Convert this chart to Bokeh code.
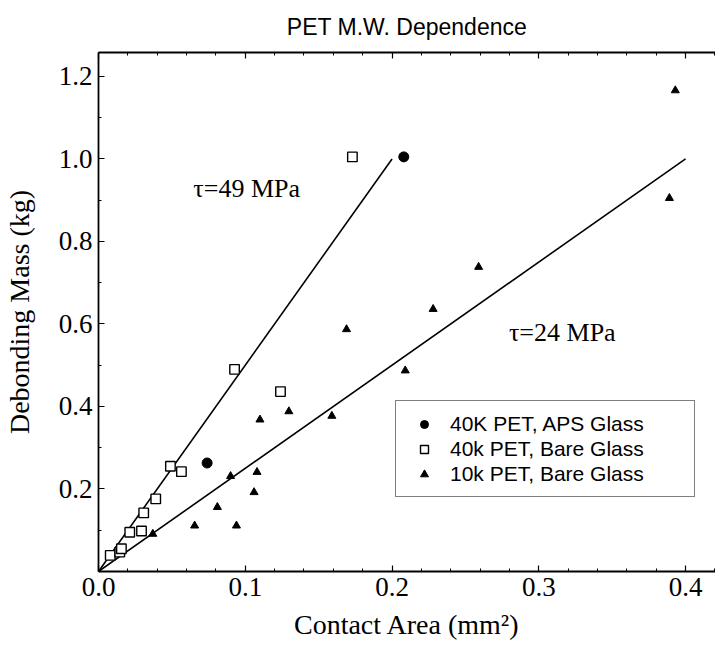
from bokeh.plotting import figure
from bokeh.models import Range1d, LinearAxis, FixedTicker, PrintfTickFormatter, Legend, LegendItem, Title, ColumnDataSource
from bokeh.embed import file_html
from bokeh.resources import INLINE
from bokeh.core.properties import value

# ---- data ----
aps40_x = [0.074, 0.208]
aps40_y = [0.263, 1.005]

bare40_x = [0.008, 0.0145, 0.0156, 0.0213, 0.0293, 0.0308, 0.039, 0.049, 0.0565, 0.0927, 0.124, 0.173]
bare40_y = [0.039, 0.047, 0.055, 0.095, 0.098, 0.142, 0.176, 0.255, 0.242, 0.490, 0.436, 1.005]

bare10_x = [0.037, 0.0655, 0.081, 0.090, 0.094, 0.106, 0.108, 0.110, 0.1297, 0.159, 0.169, 0.209, 0.228, 0.259, 0.389, 0.393]
bare10_y = [0.091, 0.111, 0.156, 0.231, 0.111, 0.192, 0.241, 0.368, 0.388, 0.377, 0.587, 0.487, 0.636, 0.738, 0.905, 1.166]

fit49_x = [0.0, 0.2]
fit49_y = [0.0, 1.0]
fit24_x = [0.0, 0.4]
fit24_y = [0.0, 1.0]

ann_text = ["\u03c4=49 MPa", "\u03c4=24 MPa"]
ann_x = [0.101, 0.316]
ann_y = [0.928, 0.579]

title_text = "PET M.W. Dependence"

x_ticks = [0.0, 0.1, 0.2, 0.3, 0.4]
x_minor = [0.02, 0.04, 0.06, 0.08, 0.12, 0.14, 0.16, 0.18, 0.22, 0.24, 0.26, 0.28, 0.32, 0.34, 0.36, 0.38, 0.42]
y_ticks = [0.2, 0.4, 0.6, 0.8, 1.0, 1.2]
y_minor = [0.1, 0.3, 0.5, 0.7, 0.9, 1.1]

labels = ["40K PET, APS Glass", "40k PET, Bare Glass", "10k PET, Bare Glass"]

SERIF = "Liberation Serif"
SANS = "Liberation Sans"

p = figure(width=715, height=645, output_backend="svg", toolbar_location=None,
           x_range=Range1d(0, 0.4204), y_range=Range1d(0, 1.258),
           min_border_left=97, min_border_right=0, min_border_top=52, min_border_bottom=74)
p.grid.visible = False
p.outline_line_color = None
p.background_fill_color = "white"
p.border_fill_color = "white"

p.title = Title(text=title_text, align="center", vertical_align="top", text_font=SANS,
                text_font_size="23px", text_font_style="normal", text_color="black", standoff=21)

def style_axis(ax, ticks, minor):
    ax.ticker = FixedTicker(ticks=ticks, minor_ticks=minor)
    ax.formatter = PrintfTickFormatter(format="%.1f")
    ax.axis_line_color = "black"
    ax.axis_line_width = 1.8
    ax.major_tick_in = 6
    ax.major_tick_out = 0
    ax.minor_tick_in = 3
    ax.minor_tick_out = 0
    ax.major_tick_line_color = "black"
    ax.minor_tick_line_color = "black"
    ax.major_tick_line_width = 1.2
    ax.minor_tick_line_width = 1
    ax.major_label_text_font = SERIF
    ax.major_label_text_font_size = "27px"
    ax.major_label_text_color = "black"
    ax.axis_label_text_font = SERIF
    ax.axis_label_text_font_size = "28px"
    ax.axis_label_text_font_style = "normal"
    ax.axis_label_text_color = "black"

style_axis(p.xaxis[0], x_ticks, x_minor)
style_axis(p.yaxis[0], y_ticks, y_minor)
p.xaxis[0].axis_label = "Contact Area (mm\u00b2)"
p.yaxis[0].axis_label = "Debonding Mass (kg)"
p.xaxis[0].major_label_standoff = 6
p.xaxis[0].axis_label_standoff = 10
p.yaxis[0].major_label_standoff = 6
p.yaxis[0].axis_label_standoff = 21

# mirrored tick marks on the top edge (no labels): long ticks and short ticks
for i, (tick_pos, tick_len) in enumerate(((x_ticks, 6), (x_minor, 3))):
    top = LinearAxis(ticker=FixedTicker(ticks=[], minor_ticks=tick_pos))
    top.axis_line_color = "black" if i == 0 else None
    top.axis_line_width = 1.8
    top.major_tick_line_color = None
    top.minor_tick_in = tick_len
    top.minor_tick_out = 0
    top.minor_tick_line_color = "black"
    top.minor_tick_line_width = 1.2 if tick_len == 6 else 1
    top.major_label_standoff = 0
    p.add_layout(top, "above")

# fit lines
p.line(fit49_x, fit49_y, line_color="black", line_width=1.6)
p.line(fit24_x, fit24_y, line_color="black", line_width=1.6)

r_aps = p.scatter(aps40_x, aps40_y, marker="circle", size=10, fill_color="black", line_color="black")
r_b40 = p.scatter(bare40_x, bare40_y, marker="square", size=9.5, fill_color="white", line_color="black", line_width=1.4)
r_b10 = p.scatter(bare10_x, bare10_y, marker="triangle", size=8, fill_color="black", line_color="black")

src = ColumnDataSource(dict(x=ann_x, y=ann_y, t=ann_text))
p.text(x="x", y="y", text="t", source=src, text_font=value(SERIF), text_font_size="26px",
       text_align="center", text_baseline="middle", text_color="black")

legend = Legend(items=[LegendItem(label=labels[0], renderers=[r_aps]),
                       LegendItem(label=labels[1], renderers=[r_b40]),
                       LegendItem(label=labels[2], renderers=[r_b10])],
                location=(297, 74))
legend.label_text_font = SANS
legend.label_text_font_size = "21px"
legend.label_text_color = "black"
legend.label_height = 25
legend.label_width = 234
legend.glyph_height = 20
legend.glyph_width = 36
legend.label_standoff = 8
legend.spacing = 0
legend.padding = 10
legend.margin = 0
legend.border_line_color = "black"
legend.border_line_width = 1.2
legend.background_fill_color = "white"
legend.background_fill_alpha = 1
p.add_layout(legend, "center")

open("out.html", "w").write(file_html(p, INLINE))
